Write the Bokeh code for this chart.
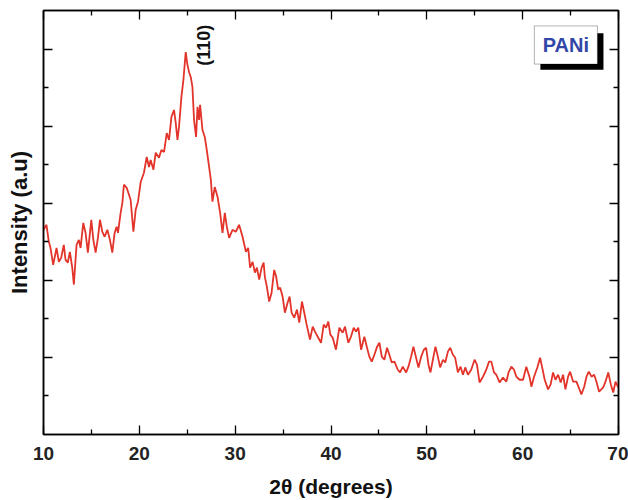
from math import pi
from bokeh.plotting import figure
from bokeh.models import Range1d, LinearAxis, FixedTicker, Label, BoxAnnotation
from bokeh.embed import file_html
from bokeh.resources import INLINE

two_theta = [10.0, 10.31, 10.55, 10.73, 11.01, 11.36, 11.60, 11.85, 12.12, 12.30,
             12.54, 12.75, 13.00, 13.17, 13.45, 13.69, 13.87, 14.15, 14.39, 14.63,
             14.99, 15.20, 15.44, 15.68, 15.89, 16.14, 16.38, 16.66, 16.93, 17.18,
             17.42, 17.63, 17.77, 18.05, 18.23, 18.39, 18.68, 18.92, 19.09, 19.38,
             19.62, 19.86, 20.14, 20.48, 20.77, 21.01, 21.18, 21.47, 21.71, 22.05,
             22.30, 22.58, 22.86, 23.10, 23.35, 23.62, 23.80, 23.98, 24.14, 24.39,
             24.60, 24.84, 25.02, 25.19, 25.37, 25.54, 25.71, 25.92, 26.07, 26.23,
             26.34, 26.59, 26.83, 27.04, 27.28, 27.46, 27.63, 27.87, 28.16, 28.43,
             28.68, 28.92, 29.13, 29.37, 29.72, 30.07, 30.41, 30.77, 31.12, 31.36,
             31.56, 31.82, 32.06, 32.27, 32.51, 32.76, 32.97, 33.10, 33.31, 33.55,
             33.80, 34.07, 34.28, 34.49, 34.70, 34.95, 35.19, 35.47, 35.68, 35.89,
             36.16, 36.45, 36.69, 36.97, 37.21, 37.46, 37.81, 38.09, 38.33, 38.67,
             38.96, 39.24, 39.48, 39.72, 39.93, 40.18, 40.52, 40.87, 41.22, 41.46,
             41.81, 42.09, 42.37, 42.61, 42.85, 43.14, 43.48, 43.76, 44.00, 44.25,
             44.53, 44.81, 45.05, 45.30, 45.57, 45.85, 46.09, 46.34, 46.62, 46.97,
             47.21, 47.49, 47.84, 48.08, 48.36, 48.60, 48.88, 49.13, 49.41, 49.69,
             49.93, 50.17, 50.38, 50.63, 50.90, 51.15, 51.39, 51.68, 51.92, 52.20,
             52.44, 52.72, 52.96, 53.24, 53.52, 53.77, 54.01, 54.29, 54.63, 54.98,
             55.23, 55.50, 55.86, 56.20, 56.49, 56.73, 57.01, 57.25, 57.59, 57.95,
             58.29, 58.53, 58.82, 59.10, 59.34, 59.68, 60.04, 60.38, 60.73, 60.91,
             61.19, 61.53, 61.82, 62.02, 62.30, 62.65, 62.92, 63.17, 63.42, 63.70,
             63.97, 64.22, 64.46, 64.74, 64.95, 65.27, 65.61, 65.85, 66.13, 66.42,
             66.66, 66.90, 67.18, 67.46, 67.70, 67.98, 68.40, 68.64, 68.93, 69.20,
             69.45, 69.69, 69.97]

intensity = [5.31, 5.44, 5.01, 4.84, 4.40, 4.84, 4.48, 4.59, 4.92, 4.53,
             4.46, 4.74, 4.33, 3.89, 4.92, 5.05, 4.84, 5.49, 5.23, 4.72,
             5.57, 5.05, 4.72, 5.10, 5.57, 5.26, 5.13, 5.31, 5.05, 4.72,
             5.23, 5.39, 5.23, 5.75, 6.01, 6.48, 6.40, 6.22, 6.09, 5.26,
             5.83, 6.04, 6.55, 6.79, 7.20, 6.94, 7.12, 6.87, 7.31, 7.18,
             7.38, 7.33, 7.82, 7.64, 8.24, 8.42, 8.08, 7.64, 7.98, 8.76,
             9.20, 9.92, 9.59, 9.40, 9.27, 9.02, 8.16, 7.72, 8.50, 8.16,
             8.55, 7.90, 7.72, 7.38, 6.94, 6.61, 6.04, 6.42, 6.17, 5.75,
             5.23, 5.75, 5.39, 5.10, 5.31, 5.26, 5.44, 5.13, 4.74, 4.84,
             4.33, 4.48, 4.20, 4.33, 4.02, 4.33, 4.46, 4.09, 3.83, 3.45,
             3.68, 4.27, 4.09, 3.76, 3.81, 3.58, 3.16, 3.42, 3.58, 3.16,
             3.03, 3.24, 2.90, 3.45, 3.16, 2.85, 2.46, 2.80, 2.67, 2.51,
             2.38, 2.85, 2.77, 2.93, 2.59, 2.51, 2.20, 2.77, 2.64, 2.80,
             2.38, 2.54, 2.77, 2.67, 2.77, 2.20, 2.54, 2.25, 2.02, 1.89,
             2.07, 2.28, 2.38, 2.02, 1.94, 2.25, 2.07, 1.87, 1.89, 1.68,
             1.61, 1.76, 1.61, 1.76, 2.02, 2.28, 1.99, 1.74, 2.02, 2.20,
             2.25, 1.81, 1.61, 1.94, 2.28, 2.02, 1.74, 1.94, 1.87, 2.15,
             2.25, 2.07, 1.99, 1.61, 1.76, 1.55, 1.74, 1.55, 1.68, 1.94,
             1.81, 1.35, 1.50, 1.68, 1.89, 1.89, 1.61, 1.55, 1.35, 1.48,
             1.37, 1.61, 1.76, 1.68, 1.50, 1.42, 1.42, 1.76, 1.48, 1.24,
             1.50, 1.74, 1.99, 1.76, 1.42, 1.17, 1.30, 1.61, 1.42, 1.55,
             1.35, 1.55, 1.17, 1.50, 1.63, 1.37, 1.37, 1.22, 1.04, 1.24,
             1.50, 1.63, 1.50, 1.55, 1.37, 1.11, 1.22, 1.37, 1.61, 1.30,
             1.09, 1.37, 1.22]

x_major = [10, 20, 30, 40, 50, 60, 70]
x_minor = [15, 25, 35, 45, 55, 65]
y_major = [2, 4, 6, 8, 10]
y_minor = [1, 3, 5, 7, 9]

FONT = "Liberation Sans"
RED = "#e2342a"

p = figure(width=628, height=500, output_backend="svg", toolbar_location=None,
           x_range=Range1d(10, 70), y_range=Range1d(0, 11),
           min_border_left=43, min_border_right=10, min_border_top=10, min_border_bottom=65)
p.grid.visible = False
p.outline_line_color = "black"
p.outline_line_width = 1.5
p.background_fill_color = "white"
p.border_fill_color = "white"

p.line(two_theta, intensity, line_color=RED, line_width=1.8)

def style(ax, ticks, labels=True):
    ax.axis_line_width = 1.5
    ax.axis_line_color = "black"
    ax.major_tick_in = 9
    ax.major_tick_out = 0
    ax.minor_tick_in = 5
    ax.minor_tick_out = 0
    ax.major_tick_line_width = 1.3
    ax.minor_tick_line_width = 1.3
    if not labels:
        ax.major_label_overrides = {t: "" for t in ticks}
        ax.major_label_standoff = 0

xb = p.xaxis[0]
xb.ticker = FixedTicker(ticks=x_major, minor_ticks=x_minor)
style(xb, x_major)
xb.major_label_text_font = FONT
xb.major_label_text_font_style = "bold"
xb.major_label_text_font_size = "19px"
xb.major_label_text_color = "#222222"
xb.major_label_standoff = 12
xb.axis_label = "2θ (degrees)"
xb.axis_label_text_font = FONT
xb.axis_label_text_font_style = "bold"
xb.axis_label_text_font_size = "21px"
xb.axis_label_text_color = "#111111"
xb.axis_label_standoff = 12

yl = p.yaxis[0]
yl.ticker = FixedTicker(ticks=y_major, minor_ticks=y_minor)
style(yl, y_major, labels=False)
yl.axis_label = "Intensity (a.u)"
yl.axis_label_text_font = FONT
yl.axis_label_text_font_style = "bold"
yl.axis_label_text_font_size = "22px"
yl.axis_label_text_color = "#111111"
yl.axis_label_standoff = 12

top = LinearAxis(ticker=FixedTicker(ticks=x_major, minor_ticks=x_minor))
style(top, x_major, labels=False)
p.add_layout(top, "above")

right = LinearAxis(ticker=FixedTicker(ticks=y_major, minor_ticks=y_minor))
style(right, y_major, labels=False)
p.add_layout(right, "right")

p.add_layout(Label(x=26.78, y=10.10, text="(110)", angle=pi / 2,
                   text_align="center", text_baseline="middle",
                   text_font=FONT, text_font_style="bold", text_font_size="18px",
                   text_color="#111111"))

p.add_layout(BoxAnnotation(left=61.85, right=68.43, bottom=9.46, top=10.41,
                           fill_color="black", fill_alpha=1.0, line_color=None))
p.add_layout(BoxAnnotation(left=61.22, right=67.80, bottom=9.61, top=10.60,
                           fill_color="white", fill_alpha=1.0,
                           line_color="black", line_width=1))
p.add_layout(Label(x=64.51, y=10.10, text="PANi",
                   text_align="center", text_baseline="middle",
                   text_font=FONT, text_font_style="bold", text_font_size="20px",
                   text_color="#3147a8"))

open("out.html", "w").write(file_html(p, INLINE))
